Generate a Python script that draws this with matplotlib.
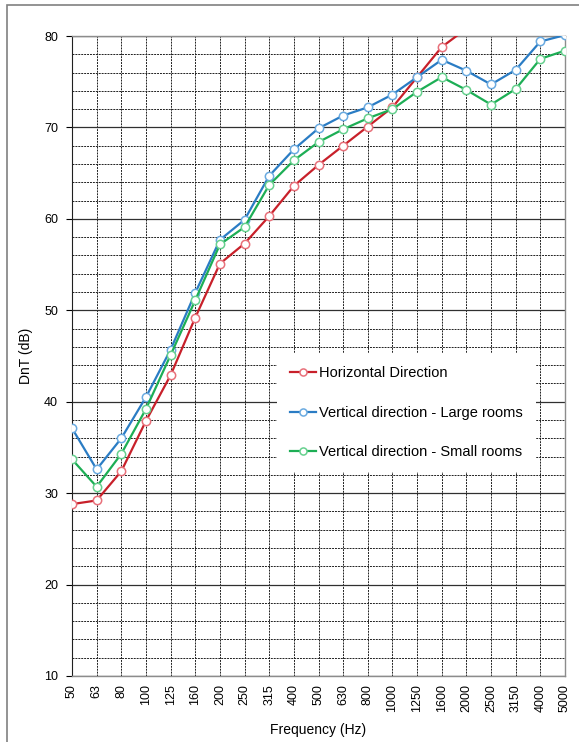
import numpy as np
import matplotlib
matplotlib.use("Agg")
import matplotlib.pyplot as plt
from matplotlib.patches import Rectangle

plt.rcParams['font.family'] = ['Liberation Sans', 'DejaVu Sans']

freqs = ['50', '63', '80', '100', '125', '160', '200', '250', '315', '400', '500',
         '630', '800', '1000', '1250', '1600', '2000', '2500', '3150', '4000', '5000']

horizontal = [28.8, 29.2, 32.4, 37.9, 42.9, 49.2, 55.1, 57.3, 60.3, 63.6, 65.9,
              68.0, 70.1, 72.2, 75.5, 78.8, 80.8, np.nan, np.nan, np.nan, np.nan]
vertical_large = [37.1, 32.6, 36.0, 40.5, 45.7, 51.9, 57.7, 59.9, 64.7, 67.6, 69.9,
                  71.3, 72.2, 73.6, 75.5, 77.4, 76.2, 74.7, 76.3, 79.4, 80.1]
vertical_small = [33.7, 30.7, 34.3, 39.2, 45.1, 51.1, 57.2, 59.1, 63.7, 66.4, 68.4,
                  69.8, 71.0, 72.0, 73.9, 75.5, 74.1, 72.5, 74.2, 77.5, 78.4]

series = [
    ("Horizontal Direction", horizontal, '#C8202A', '#E8707A'),
    ("Vertical direction - Large rooms", vertical_large, '#2A7CC4', '#6AAAE0'),
    ("Vertical direction - Small rooms", vertical_small, '#1DAE55', '#66D08E'),
]

fig = plt.figure(figsize=(5.79, 7.42), dpi=100)
W, H = 579, 742
# outer chart-area border (image is cropped from a larger frame)
fig.patches.append(Rectangle((7 / W, -0.1), 1.2, 1 - 5 / H + 0.1, transform=fig.transFigure,
                             fill=False, edgecolor='#808080', linewidth=1.2))

ax = fig.add_axes([72 / W, 1 - 676 / H, (565 - 72) / W, (676 - 36) / H])
x = np.arange(len(freqs))

for label, vals, col, mcol in series:
    ax.plot(x, vals, color=col, linewidth=1.6, marker='o', markersize=6,
            markerfacecolor='white', markeredgecolor=mcol, markeredgewidth=1.1,
            label=label, zorder=3, clip_on=True)

ax.set_xlim(0, len(freqs) - 1)
ax.set_ylim(10, 80)
ax.set_xticks(x)
ax.set_xticklabels(freqs, rotation=90, fontsize=9)
ax.set_yticks(np.arange(10, 81, 10))
ax.set_yticks(np.arange(10, 81, 2), minor=True)
ax.tick_params(axis='y', which='major', direction='out', length=4, labelsize=9, pad=6)
ax.tick_params(axis='y', which='minor', length=0)
ax.tick_params(axis='x', length=0, pad=6)

ax.grid(which='major', axis='y', color='#303030', linewidth=0.9, linestyle='-')
ax.grid(which='minor', axis='y', color='#202020', linewidth=0.7, linestyle=(0, (2, 1)))
ax.grid(which='major', axis='x', color='#202020', linewidth=0.7, linestyle=(0, (2, 1)))
ax.set_axisbelow(True)

for side in ['top', 'right', 'bottom']:
    ax.spines[side].set_color('#8c8c8c')
    ax.spines[side].set_linewidth(1.0)
ax.spines['left'].set_color('#202020')

ax.set_xlabel('Frequency (Hz)', fontsize=10, labelpad=8)
ax.set_ylabel('DnT (dB)', fontsize=10, labelpad=8)

leg = ax.legend(loc='upper left', bbox_to_anchor=((277 - 72) / (565 - 72), 1 - (353 - 36) / 640),
                frameon=True, fancybox=False, edgecolor='none', framealpha=1,
                fontsize=10.5, handlelength=1.8, handletextpad=0.2, labelspacing=1.75,
                borderpad=0.9, borderaxespad=0, markerscale=0.85)

fig.savefig('out.png', dpi=100)
